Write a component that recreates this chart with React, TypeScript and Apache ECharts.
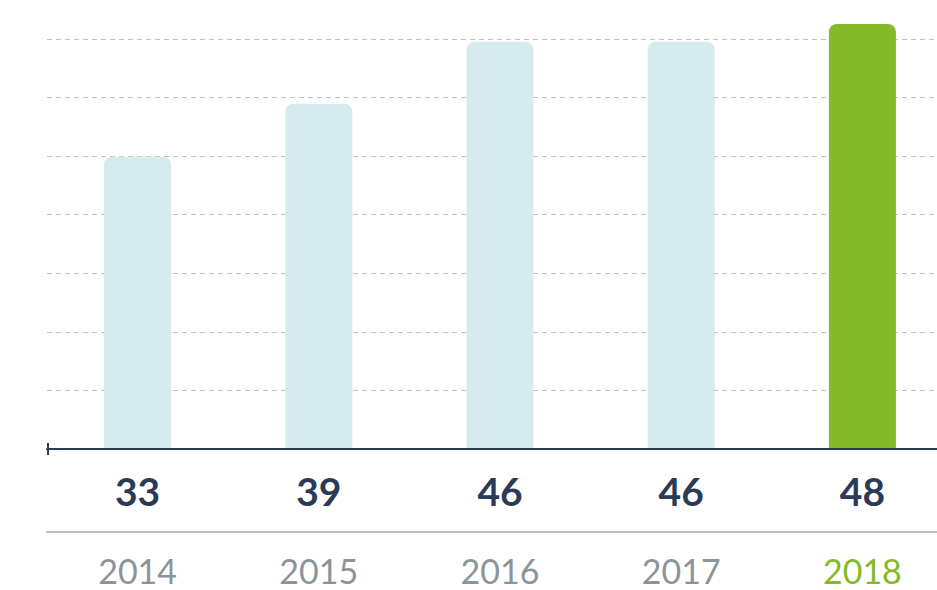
import React, { useEffect, useRef } from "react";
import * as echarts from "echarts";

const years = ["2014", "2015", "2016", "2017", "2018"];
const values = [33, 39, 46, 46, 48];
const highlightYear = "2018";
const gridMax = 46.3;
const gridSplits = 7;

const NAVY = "#2b3a56";
const GREEN = "#84b928";
const LIGHT = "#d6ebed";
const GRAY_TEXT = "#8b9498";
const GRID_LINE = "#b9c3c7";
const SEP_LINE = "#b7c1c5";

export default function App() {
  const ref = useRef<HTMLDivElement>(null);
  useEffect(() => {
    if (!ref.current) return;
    const chart = echarts.init(ref.current, undefined, { renderer: "svg" });
    chart.setOption({
      animation: false,
      grid: { left: 47, top: 39, width: 906, height: 410, containLabel: false },
      xAxis: [
        {
          type: "category",
          data: years,
          position: "bottom",
          axisLine: { show: true, lineStyle: { color: NAVY, width: 2 } },
          axisTick: { show: false },
          axisLabel: {
            interval: 0,
            margin: 24,
            fontFamily: "Lato",
            fontWeight: "bold",
            fontSize: 39,
            lineHeight: 36,
            color: NAVY,
            formatter: (_v: string, i: number) => String(values[i]),
          },
          z: 5,
        },
        {
          type: "category",
          data: years,
          position: "bottom",
          offset: 83,
          axisLine: { show: true, lineStyle: { color: SEP_LINE, width: 2 } },
          axisTick: { show: false },
          axisLabel: {
            interval: 0,
            margin: 23,
            fontFamily: "Lato",
            fontSize: 34,
            lineHeight: 30,
            color: GRAY_TEXT,
            formatter: (v: string) => (v === highlightYear ? `{hl|${v}}` : v),
            rich: {
              hl: { color: GREEN, fontFamily: "Lato", fontSize: 34, lineHeight: 30 },
            },
          },
        },
      ],
      yAxis: {
        type: "value",
        min: 0,
        max: gridMax,
        interval: gridMax / gridSplits,
        axisLabel: { show: false },
        axisLine: { show: false },
        axisTick: { show: false },
        splitLine: {
          show: true,
          lineStyle: { color: GRID_LINE, width: 1, type: [5, 4] },
        },
      },
      series: [
        {
          type: "bar",
          xAxisIndex: 0,
          barWidth: 67,
          clip: false,
          data: values.map((v, i) => ({
            value: v,
            itemStyle: {
              color: years[i] === highlightYear ? GREEN : LIGHT,
              borderRadius: [8, 8, 0, 0],
            },
          })),
        },
      ],
      graphic: [
        {
          type: "line",
          shape: { x1: 48, y1: 443, x2: 48, y2: 455 },
          style: { stroke: NAVY, lineWidth: 2 },
          z: 10,
        },
      ],
    });
    return () => chart.dispose();
  }, []);
  return (
    <div
      style={{
        position: "fixed",
        left: 0,
        top: 0,
        width: 937,
        height: 590,
        overflow: "hidden",
        background: "#fff",
      }}
    >
      <div ref={ref} style={{ width: 960, height: 590 }} />
    </div>
  );
}
